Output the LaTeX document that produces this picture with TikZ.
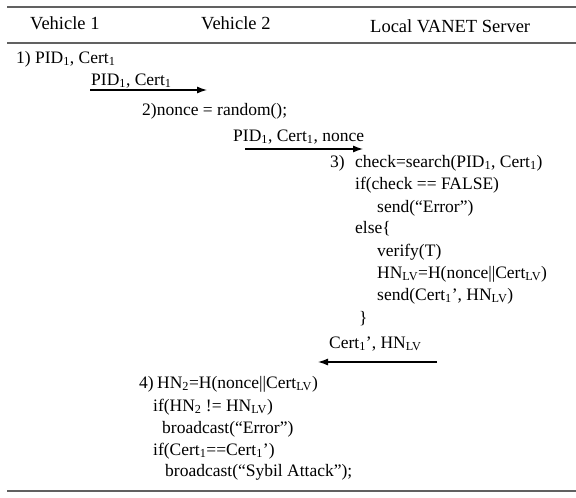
\documentclass[tikz,border=0pt]{standalone}
\usepackage{fontspec}
\setmainfont{Liberation Serif}
\usetikzlibrary{arrows.meta}
\newcommand\sub[1]{\textsubscript{#1}}

\begin{document}
\begin{tikzpicture}[x=1pt,y=-1pt,
  txt/.style={anchor=base west, inner sep=0pt, font=\fontsize{17.5}{21}\selectfont},
  head/.style={anchor=base west, inner sep=0pt, font=\fontsize{18.5}{22}\selectfont},
  rulethick/.style={draw=black!62, line width=2pt},
  rulethin/.style={draw=black!62, line width=1.4pt},
  msg/.style={line width=1.2pt, -{Latex[length=10pt,width=7pt]}}]
\useasboundingbox (0,0) rectangle (576,498);

% table rules
\draw[rulethick] (7,7) -- (576,7);
\draw[rulethin] (7,43) -- (576,43);
\draw[rulethick] (7,491) -- (576,491);

% column headings
\node[head] (h1) at (30,29) {Vehicle 1};
\node[head] (h2) at (201,29) {Vehicle 2};
\node[head] (h3) at (370,32) {Local VANET Server};

% step 1
\node[txt] (s1) at (16,63) {1) PID\sub1, Cert\sub1};
\node[txt] (m1) at (91,85) {PID\sub1, Cert\sub1};
\coordinate (m1a) at (90,90);
\coordinate (m1b) at (207,90);
\draw[msg] (m1a) -- (m1b);

% step 2
\node[txt] (s2) at (142,115) {2)nonce = random();};
\node[txt] (m2) at (233,141) {PID\sub1, Cert\sub1, nonce};
\coordinate (m2a) at (245,149);
\coordinate (m2b) at (363,149);
\draw[msg] (m2a) -- (m2b);

% step 3
\node[txt] (s3) at (330,167) {3)};
\node[txt] (c1) at (355,167) {check=search(PID\sub1, Cert\sub1)};
\node[txt] (c2) at (355,189) {if(check == FALSE)};
\node[txt] (c3) at (377,212) {send(“Error”)};
\node[txt] (c4) at (355,233) {else\{};
\node[txt] (c5) at (377,256) {verify(T)};
\node[txt] (c6) at (377,278) {HN\sub{LV}=H(nonce||Cert\sub{LV})};
\node[txt] (c7) at (377,300) {send(Cert\sub1’, HN\sub{LV})};
\node[txt] (c8) at (359,323) {\}};
\node[txt] (m3) at (329,348) {Cert\sub1’, HN\sub{LV}};
\coordinate (m3a) at (437,362);
\coordinate (m3b) at (318,362);
\draw[msg] (m3a) -- (m3b);

% step 4
\node[txt] (s4) at (139,388) {4)};
\node[txt] (d1) at (157,388) {HN\sub2=H(nonce||Cert\sub{LV})};
\node[txt] (d2) at (153,411) {if(HN\sub2 != HN\sub{LV})};
\node[txt] (d3) at (162,433) {broadcast(“Error”)};
\node[txt] (d4) at (153,455) {if(Cert\sub1==Cert\sub1’)};
\node[txt] (d5) at (165,476) {broadcast(“Sybil Attack”);};
\end{tikzpicture}
\end{document}
